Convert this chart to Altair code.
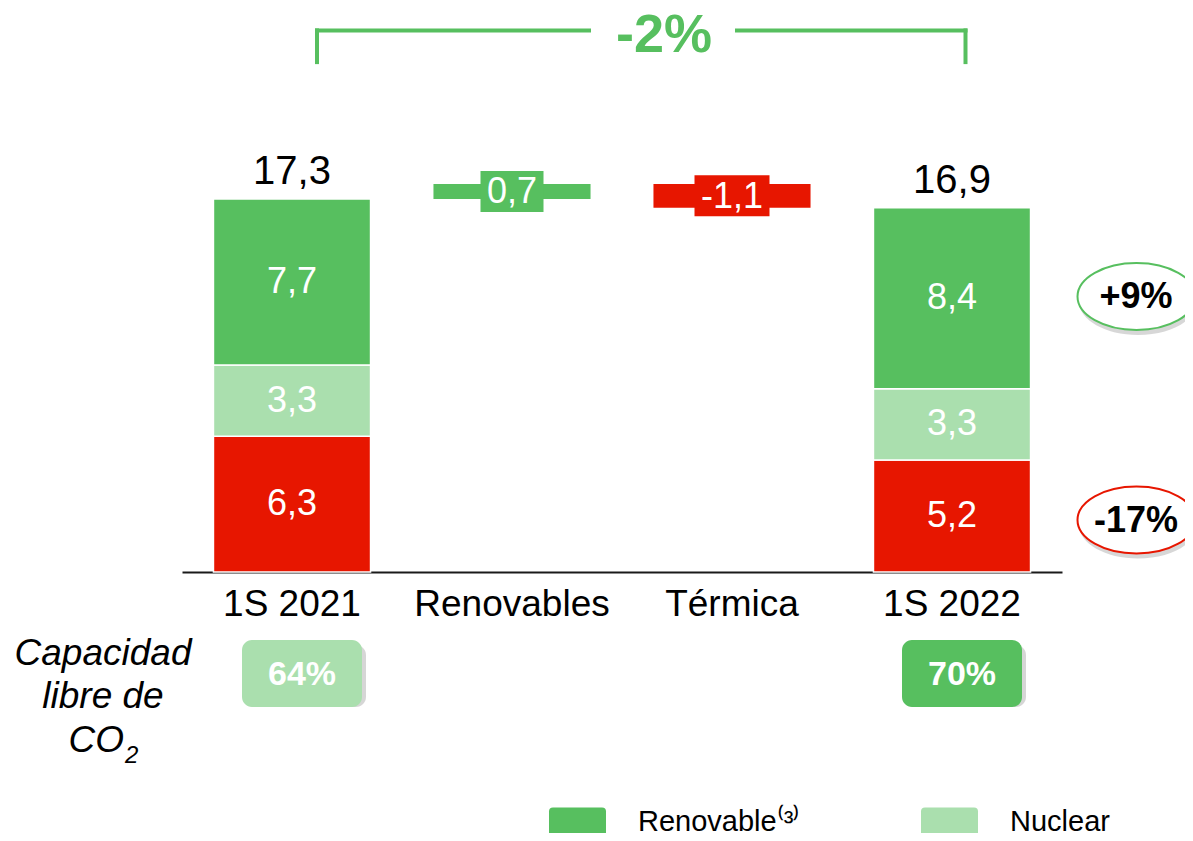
import altair as alt
import pandas as pd

# ---------------- data ----------------
categories = ["1S 2021", "Renovables", "Térmica", "1S 2022"]
periods = ["1S 2021", "1S 2022"]
termica = [6.3, 5.2]
nuclear = [3.3, 3.3]
renovable = [7.7, 8.4]
totals = [17.3, 16.9]
delta_cats = ["Renovables", "Térmica"]
delta_tipo = ["Renovable", "Térmica"]
delta_vals = [0.7, -1.1]
capacidad_libre = ["64%", "70%"]
var_labels = ["+9%", "-17%"]
var_tipo = ["Renovable", "Térmica"]
total_change = "-2%"
tipos = ["Renovable", "Nuclear", "Térmica"]
legend_tipos = ["Renovable", "Nuclear"]
capacidad_text = ["Capacidad", "libre de"]
co_text = ["CO"]
sub_label = ["2"]

# ---------------- style / layout ----------------
FONT = "Liberation Sans"
GREEN = "#57BF5F"
LIGHT = "#AADFAE"
RED = "#E71600"
colores = [GREEN, LIGHT, RED]
W, H = 1177, 825
PX_PER_UNIT = 21.56
BASE_PX = 564
Y_MAX = BASE_PX / PX_PER_UNIT
Y_MIN = -(H - BASE_PX) / PX_PER_UNIT


def fmt(v):
    return f"{v:.1f}".replace(".", ",")


rows = []
for i, p in enumerate(periods):
    base = 0.0
    for t, vals in [("Térmica", termica), ("Nuclear", nuclear), ("Renovable", renovable)]:
        v = vals[i]
        rows.append(dict(cat=p, tipo=t, y0=base, y1=base + v, mid=base + v / 2, label=fmt(v)))
        base += v
stack_df = pd.DataFrame(rows)

tot_df = pd.DataFrame(dict(cat=periods, total=totals, label=[fmt(v) for v in totals]))

wrows = []
start = totals[0]
for c, t, d in zip(delta_cats, delta_tipo, delta_vals):
    wrows.append(dict(cat=c, tipo=t, y0=start, y1=start + d, mid=start + d / 2, label=fmt(d)))
    start += d
wf_df = pd.DataFrame(wrows)

xscale = alt.Scale(domain=categories, range=[174, 1054], paddingInner=0.286, paddingOuter=0.143)
yscale = alt.Scale(domain=[Y_MIN, Y_MAX], nice=False, zero=False)
xaxis = alt.Axis(orient="bottom", offset=-(H - BASE_PX), domainColor="#1a1a1a", domainWidth=2,
                 ticks=False, tickSize=0, labelFontSize=37, labelFont=FONT, labelColor="black",
                 labelPadding=14, labelAngle=0, labelLimit=0, title=None, grid=False)

RR_PATH = ("M-0.86,-0.5H0.86Q1,-0.5 1,-0.36V0.36Q1,0.5 0.86,0.5H-0.86Q-1,0.5 -1,0.36"
           "V-0.36Q-1,-0.5 -0.86,-0.5Z")
ELL_PATH = ("M1,0 C1,0.3137 0.5523,0.568 0,0.568 C-0.5523,0.568 -1,0.3137 -1,0 "
            "C-1,-0.3137 -0.5523,-0.568 0,-0.568 C0.5523,-0.568 1,-0.3137 1,0 Z")

legend = alt.Legend(values=legend_tipos, orient="none", legendX=541, legendY=785,
                    direction="horizontal", title=None, symbolType=RR_PATH, symbolSize=3249,
                    symbolStrokeWidth=0, symbolOpacity=1, labelFontSize=29, labelFont=FONT,
                    labelColor="black", labelOffset=32, columnPadding=120, padding=0,
                    labelLimit=0,
                    labelExpr="datum.label == 'Renovable' ? 'Renovable⁽³⁾' : datum.label")
color = alt.Color("tipo:N", scale=alt.Scale(domain=tipos, range=colores), legend=legend)


def X(field="cat"):
    return alt.X(f"{field}:N", scale=xscale, axis=xaxis)


def Y(field):
    return alt.Y(f"{field}:Q", scale=yscale, axis=None)


# stacked bars
bars = alt.Chart(stack_df).mark_bar(stroke="white", strokeWidth=1.5).encode(
    x=X(), y=Y("y1"), y2="y0", color=color)
seg_text = alt.Chart(stack_df).mark_text(font=FONT, fontSize=36, color="white", baseline="middle").encode(
    x=X(), y=Y("mid"), text="label:N")
tot_text = alt.Chart(tot_df).mark_text(font=FONT, fontSize=40, color="black", baseline="alphabetic", dy=-15).encode(
    x=X(), y=Y("total"), text="label:N")

# waterfall
wf_bars = alt.Chart(wf_df).mark_bar().encode(x=X(), y=Y("y0"), y2="y1", color=color)
wf_box = alt.Chart(wf_df).mark_tick(thickness=41, opacity=1).encode(
    x=X(), y=Y("mid"), color=color,
    size=alt.Size("cat:N", scale=alt.Scale(domain=delta_cats, range=[63, 75]), legend=None))
wf_text = alt.Chart(wf_df).mark_text(font=FONT, fontSize=36, color="white", baseline="middle", dy=1).encode(
    x=X(), y=Y("mid"), text="label:N")

# bracket -2%
BR_Y, BR_END, BR_TXT = 25.12, 23.65, 24.12
br_df = pd.DataFrame(dict(a=[categories[0]], b=[categories[1]], c=[categories[2]], d=[categories[3]],
                          y=[BR_Y], yend=[BR_END], ytxt=[BR_TXT], label=[total_change]))
br_style = dict(color=GREEN, strokeWidth=4, strokeCap="square")
br1 = alt.Chart(br_df).mark_rule(xOffset=25, x2Offset=77, **br_style).encode(x=X("a"), x2="b", y=Y("y"))
br2 = alt.Chart(br_df).mark_rule(xOffset=5, x2Offset=13.5, **br_style).encode(x=X("c"), x2="d", y=Y("y"))
br3 = alt.Chart(br_df).mark_rule(xOffset=25, **br_style).encode(x=X("a"), y=Y("y"), y2="yend")
br4 = alt.Chart(br_df).mark_rule(xOffset=13.5, **br_style).encode(x=X("d"), y=Y("y"), y2="yend")
br_text = alt.Chart(br_df).mark_text(font=FONT, fontSize=54, fontWeight="bold", color=GREEN,
                                     baseline="alphabetic", dx=-68).encode(x=X("c"), y=Y("ytxt"), text="label:N")

# variation ellipses
ell_df = pd.DataFrame(dict(cat=[periods[1]] * 2, tipo=var_tipo, y=[12.78, 2.41], label=var_labels))
ell_shadow = alt.Chart(ell_df).mark_point(shape=ELL_PATH, size=13924, filled=True, color="#7a7a7a",
                                          opacity=0.3, xOffset=186, yOffset=5).encode(x=X(), y=Y("y"))
ell = alt.Chart(ell_df).mark_point(shape=ELL_PATH, size=13924, filled=False, fill="white",
                                   strokeWidth=2, opacity=1, xOffset=184.5).encode(
    x=X(), y=Y("y"), stroke=alt.Stroke("tipo:N", scale=alt.Scale(domain=["Renovable", "Térmica"], range=[GREEN, RED]), legend=None))
ell_text = alt.Chart(ell_df).mark_text(font=FONT, fontSize=36, fontWeight="bold", color="black",
                                       baseline="middle", dx=184, dy=1).encode(x=X(), y=Y("y"), text="label:N")

# capacidad libre de CO2 boxes
cap_df = pd.DataFrame(dict(cat=periods, label=capacidad_libre, ytop=[-3.154] * 2, ybot=[-6.262] * 2, ymid=[-4.708] * 2))
cap_shadow = alt.Chart(cap_df).mark_bar(width=122, cornerRadius=10, color="#000000", opacity=0.16,
                                        xOffset=13, yOffset=5).encode(x=X(), y=Y("ytop"), y2="ybot")
cap_box = alt.Chart(cap_df).mark_bar(width=120, cornerRadius=10, xOffset=10).encode(
    x=X(), y=Y("ytop"), y2="ybot",
    fill=alt.Fill("cat:N", scale=alt.Scale(domain=periods, range=[LIGHT, GREEN]), legend=None))
cap_text = alt.Chart(cap_df).mark_text(font=FONT, fontSize=34, fontWeight="bold", color="white",
                                       baseline="middle", dx=10, dy=1).encode(x=X(), y=Y("ymid"), text="label:N")

lab_df = pd.DataFrame(dict(cat=[periods[0]] * 2, label=capacidad_text, y=[-4.314, -6.308]))
lab_text = alt.Chart(lab_df).mark_text(font=FONT, fontSize=37, fontStyle="italic", color="black",
                                       baseline="alphabetic", dx=-189).encode(x=X(), y=Y("y"), text="label:N")
co_df = pd.DataFrame(dict(cat=[periods[0]], label=co_text, y=[-8.349]))
co_txt = alt.Chart(co_df).mark_text(font=FONT, fontSize=37, fontStyle="italic", color="black",
                                    baseline="alphabetic", align="right", dx=-168).encode(x=X(), y=Y("y"), text="label:N")
sub_df = pd.DataFrame(dict(cat=[periods[0]], label=sub_label, y=[-8.86]))
sub_text = alt.Chart(sub_df).mark_text(font=FONT, fontSize=24, fontStyle="italic", color="black",
                                       baseline="alphabetic", align="left", dx=-167).encode(x=X(), y=Y("y"), text="label:N")

chart = alt.layer(
    bars, wf_bars, wf_box, seg_text, tot_text, wf_text,
    br1, br2, br3, br4, br_text,
    ell_shadow, ell, ell_text,
    cap_shadow, cap_box, cap_text,
    lab_text, co_txt, sub_text,
).properties(width=W, height=H, padding=0, autosize="none").configure_view(stroke=None)

chart.save("out.html", embed_options={"renderer": "svg", "actions": False})
